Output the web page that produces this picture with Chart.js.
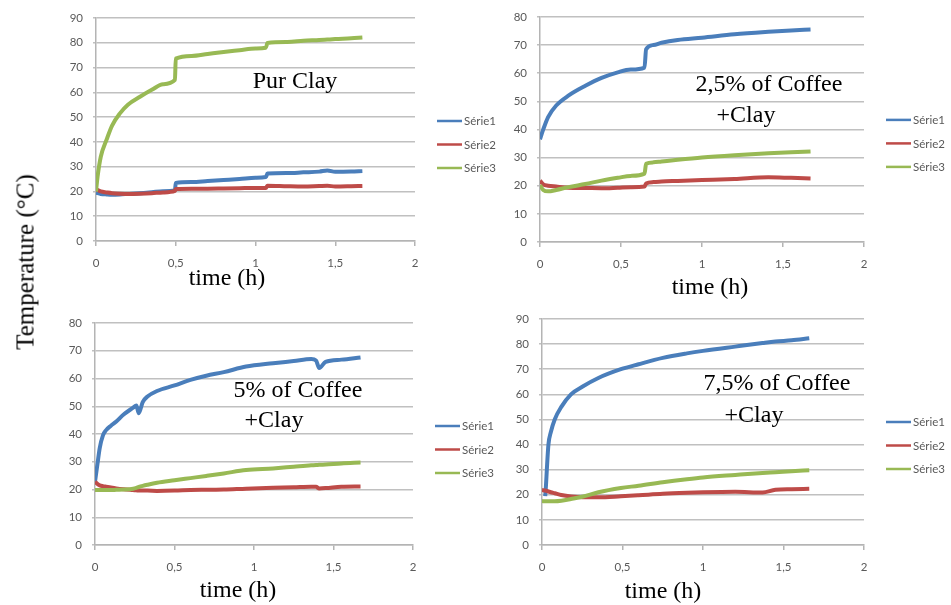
<!DOCTYPE html>
<html>
<head>
<meta charset="utf-8">
<script src="https://cdn.jsdelivr.net/npm/chart.js@4.4.1/dist/chart.umd.min.js"></script>
<style>
  body { margin: 0; background: #fff; }
  #wrap { position: relative; width: 951px; height: 605px; overflow: hidden; }
  canvas { position: absolute; }
  #ytitle {
    position: absolute; left: 25px; top: 262px;
    transform: translate(-50%, -50%) rotate(-90deg);
    font: 25px "Liberation Serif", serif; white-space: nowrap; line-height: 1; color: #000;
  }
</style>
</head>
<body>
<div id="wrap">
  <canvas id="c1" width="500" height="300" style="left:0;top:0"></canvas>
  <canvas id="c2" width="471" height="300" style="left:480px;top:0"></canvas>
  <canvas id="c3" width="500" height="305" style="left:0;top:300px"></canvas>
  <canvas id="c4" width="471" height="305" style="left:480px;top:300px"></canvas>
  <div id="ytitle">Temperature (°C)</div>
</div>
<script>
// series names and x tick labels
var seriesNames = ['Série1', 'Série2', 'Série3'];
var xTickLabels = ['0', '0,5', '1', '1,5', '2'];

// Pur Clay
var time1 = [0, 0.01, 0.03, 0.067, 0.1, 0.15, 0.2, 0.276, 0.35, 0.42, 0.495, 0.5, 0.6, 0.7, 0.8, 0.9, 1.0, 1.065, 1.075, 1.2, 1.3, 1.4, 1.45, 1.5, 1.6, 1.67];
var p1Serie1 = [19.5, 19.3, 19, 18.8, 18.7, 18.8, 19, 19.3, 19.7, 20.1, 20.5, 23.4, 23.8, 24.2, 24.6, 25, 25.5, 25.8, 27.2, 27.4, 27.7, 28, 28.5, 27.9, 28, 28.2];
var p1Serie2 = [21, 20.6, 20, 19.6, 19.3, 19.1, 19, 19.1, 19.3, 19.6, 20.2, 21, 21.1, 21.1, 21.2, 21.3, 21.4, 21.4, 22.3, 22.1, 22, 22.2, 22.3, 22, 22.1, 22.2];
var p1Serie3 = [20, 26, 34, 41, 46.5, 51.5, 55, 58.2, 61, 63.3, 65, 73.6, 74.7, 75.5, 76.3, 77, 77.7, 78, 79.9, 80.3, 80.8, 81.1, 81.3, 81.5, 81.8, 82.1];

// 2,5% of Coffee + Clay
var time2 = [0, 0.02, 0.05, 0.1, 0.175, 0.28, 0.38, 0.48, 0.56, 0.645, 0.655, 0.7, 0.75, 0.85, 1.0, 1.2, 1.41, 1.55, 1.67];
var p2Serie1 = [36.5, 40, 44.4, 48.5, 52, 55.5, 58.3, 60.3, 61.3, 62, 68.5, 70, 70.8, 71.8, 72.6, 73.8, 74.7, 75.2, 75.5];
var p2Serie2 = [21.8, 20.5, 20, 19.7, 19.3, 19.2, 19.1, 19.3, 19.5, 19.7, 20.8, 21.3, 21.5, 21.7, 22, 22.4, 23, 22.8, 22.6];
var p2Serie3 = [20.2, 18.5, 18, 18.5, 19.5, 20.6, 21.8, 22.8, 23.5, 24.3, 27.8, 28.3, 28.6, 29.2, 30, 30.8, 31.5, 31.9, 32.2];

// 5% of Coffee + Clay
var time3 = [0, 0.015, 0.03, 0.05, 0.07, 0.1, 0.134, 0.18, 0.24, 0.26, 0.275, 0.3, 0.33, 0.39, 0.5, 0.6, 0.7, 0.81, 0.95, 1.12, 1.25, 1.36, 1.39, 1.41, 1.45, 1.55, 1.67];
var p3Serie1 = [22.8, 29, 35, 39.5, 41.4, 43, 44.5, 47, 49.5, 50.3, 47.5, 51.5, 53.5, 55.5, 57.5, 59.5, 61, 62.3, 64.3, 65.5, 66.3, 67, 66.5, 63.8, 66, 66.8, 67.6];
var p3Serie2 = [22.8, 22, 21.5, 21.2, 21, 20.7, 20.4, 20.1, 19.8, 19.7, 19.6, 19.6, 19.6, 19.5, 19.6, 19.8, 19.9, 20, 20.3, 20.6, 20.8, 21, 21, 20.4, 20.5, 21, 21.1];
var p3Serie3 = [19.8, 19.8, 19.8, 19.8, 19.8, 19.8, 19.9, 20, 20.3, 20.6, 20.9, 21.3, 21.7, 22.4, 23.3, 24.1, 24.9, 25.8, 27, 27.6, 28.2, 28.7, 28.8, 28.9, 29, 29.4, 29.7];

// 7,5% of Coffee + Clay
var time4 = [0, 0.02, 0.025, 0.03, 0.04, 0.055, 0.079, 0.12, 0.18, 0.25, 0.35, 0.49, 0.6, 0.75, 0.9, 1.0, 1.2, 1.37, 1.45, 1.55, 1.66];
var p4Serie1 = [null, 19.5, 24, 30, 40, 45, 50, 55, 60, 63, 66.5, 70, 72, 74.5, 76.3, 77.3, 79, 80.4, 81, 81.5, 82.3];
var p4Serie2 = [21.9, 21.7, 21.6, 21.5, 21.3, 21, 20.6, 19.9, 19.3, 19, 19, 19.4, 19.8, 20.4, 20.8, 21, 21.2, 20.9, 22, 22.2, 22.4];
var p4Serie3 = [17.5, 17.4, 17.4, 17.4, 17.4, 17.4, 17.4, 17.6, 18.3, 19.2, 21, 22.7, 23.6, 25, 26.2, 26.9, 27.9, 28.7, 29, 29.4, 29.8];

var colors = ['#4a7ebb', '#be4b48', '#98b954'];

// テキスト（注記・凡例・軸タイトル）を描くプラグイン
var panelText = {
    id: 'panelText',
    afterDraw: function(chart, args, opts) {
        var ctx = chart.ctx;
        var a = chart.chartArea;
        ctx.save();
        // legend
        chart.data.datasets.forEach(function(ds, i) {
            var x = a.right + 22;
            var y = a.top + 103 + i * 23.5;
            ctx.strokeStyle = ds.borderColor;
            ctx.lineWidth = 2.5;
            ctx.beginPath();
            ctx.moveTo(x, y);
            ctx.lineTo(x + 25, y);
            ctx.stroke();
            ctx.fillStyle = '#595959';
            ctx.font = '11.5px Lato';
            ctx.textAlign = 'left';
            ctx.textBaseline = 'middle';
            ctx.fillText(ds.label, x + 27, y + 0.5);
        });
        // notes
        ctx.fillStyle = '#000';
        ctx.textAlign = 'center';
        ctx.textBaseline = 'alphabetic';
        opts.notes.forEach(function(n) {
            ctx.font = '24px "Liberation Serif"';
            ctx.fillText(n.text, n.x, n.y);
        });
        ctx.restore();
    }
};

// パネルごとにグラフを作る
function makePanel(id, times, values, yMax, area, notes) {
    var canvas = document.getElementById(id);
    var w = canvas.width, h = canvas.height;
    var datasets = values.map(function(vals, k) {
        return {
            label: seriesNames[k],
            data: times.map(function(t, i) { return { x: t, y: vals[i] }; }),
            borderColor: colors[k],
            backgroundColor: colors[k],
            borderWidth: 4,
            pointRadius: 0,
            cubicInterpolationMode: 'monotone',
            order: 3 - k
        };
    });
    return new Chart(canvas, {
        type: 'line',
        data: { datasets: datasets },
        plugins: [panelText],
        options: {
            responsive: false,
            animation: false,
            devicePixelRatio: 1,
            layout: { padding: { left: 0, top: area.t, right: w - area.r, bottom: 0 } },
            plugins: {
                legend: { display: false },
                tooltip: { enabled: false },
                panelText: { notes: notes }
            },
            scales: {
                x: {
                    type: 'linear',
                    min: 0, max: 2,
                    ticks: {
                        stepSize: 0.5,
                        padding: 10,
                        color: '#595959',
                        font: { family: 'Lato', size: 11.5 },
                        callback: function(v) { return xTickLabels[Math.round(v / 0.5)]; }
                    },
                    grid: { drawOnChartArea: false, drawTicks: true, tickLength: 5, color: '#b4b4b4', lineWidth: 1.5 },
                    border: { display: true, color: '#b4b4b4', width: 1.5 },
                    afterFit: function(s) { s.height = h - area.b; }
                },
                y: {
                    min: 0, max: yMax,
                    ticks: {
                        stepSize: 10,
                        padding: 10,
                        color: '#595959',
                        font: { family: 'Lato', size: 11.5 }
                    },
                    grid: { color: '#c0c0c0', lineWidth: 1.5, tickLength: 3 },
                    border: { display: true, color: '#b4b4b4', width: 1.5 },
                    afterFit: function(s) { s.width = area.l; }
                }
            }
        }
    });
}

makePanel('c1', time1, [p1Serie1, p1Serie2, p1Serie3], 90, { l: 96, t: 18, r: 415, b: 241 }, [
    { text: 'Pur Clay', x: 295, y: 87.5 },
    { text: 'time (h)', x: 227, y: 285 }
]);
makePanel('c2', time2, [p2Serie1, p2Serie2, p2Serie3], 80, { l: 60, t: 16, r: 384, b: 242 }, [
    { text: '2,5% of Coffee', x: 289, y: 91 },
    { text: '+Clay', x: 266, y: 122 },
    { text: 'time (h)', x: 230, y: 293.5 }
]);
makePanel('c3', time3, [p3Serie1, p3Serie2, p3Serie3], 80, { l: 95, t: 23, r: 413, b: 245 }, [
    { text: '5% of Coffee', x: 298, y: 96.5 },
    { text: '+Clay', x: 274, y: 126.5 },
    { text: 'time (h)', x: 238, y: 296.5 }
]);
makePanel('c4', time4, [p4Serie1, p4Serie2, p4Serie3], 90, { l: 62, t: 19, r: 384, b: 245 }, [
    { text: '7,5% of Coffee', x: 297, y: 89.5 },
    { text: '+Clay', x: 274, y: 121.5 },
    { text: 'time (h)', x: 183, y: 298 }
]);
</script>
</body>
</html>
